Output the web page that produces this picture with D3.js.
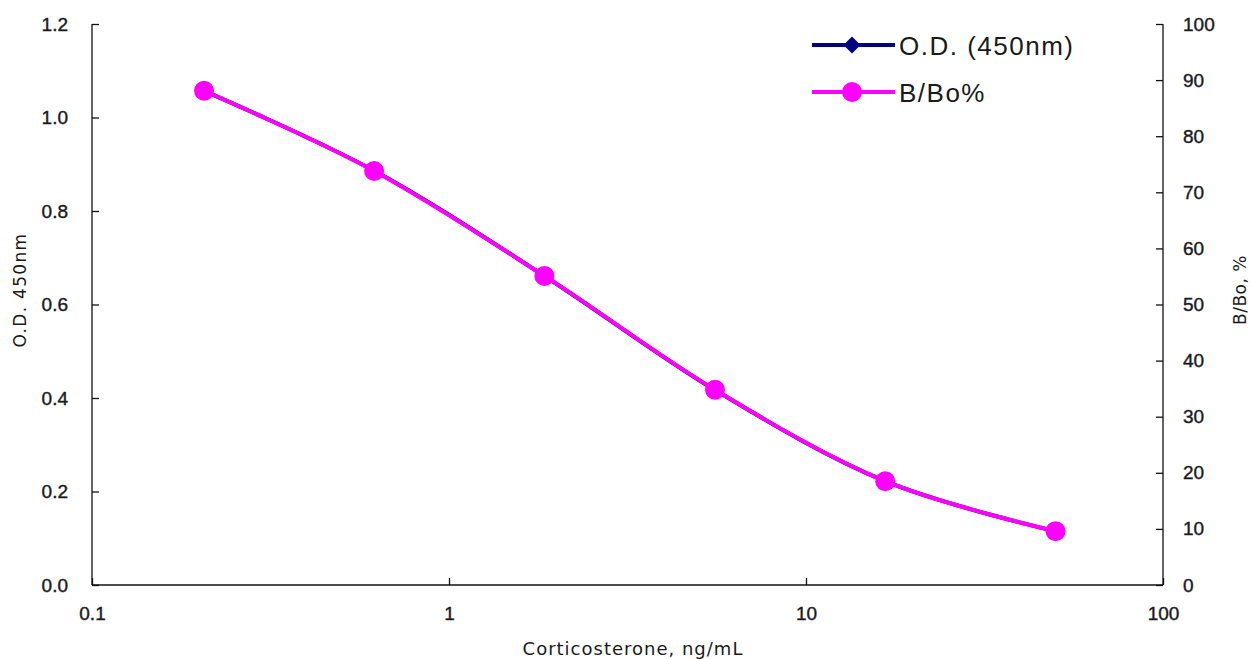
<!DOCTYPE html>
<html lang="en">
<head>
    <meta charset="UTF-8">
    <title>Corticosterone standard curve</title>
    <script src="https://d3js.org/d3.v7.min.js"></script>
    <style>
        body { margin: 0; background: #fff; }
        svg text { font-family: "Liberation Sans", Arial, sans-serif; fill: #1a1a1a; }
    </style>
</head>
<body>
    <svg id="chart" width="1251" height="659"></svg>
    <script>
        // standard concentrations (3-fold dilution from 50 ng/mL)
        const conc = [0.206, 0.617, 1.85, 5.56, 16.67, 50];
        const odValues = [1.057, 0.886, 0.661, 0.417, 0.222, 0.115];
        const bboValues = [88.1, 73.8, 55.1, 34.8, 18.5, 9.6];
        const xTicks = [0.1, 1, 10, 100];
        const leftTicks = [0, 0.2, 0.4, 0.6, 0.8, 1.0, 1.2];
        const rightTicks = [0, 10, 20, 30, 40, 50, 60, 70, 80, 90, 100];

        const svg = d3.select("#chart");
        const width = +svg.attr("width");
        const height = +svg.attr("height");
        const margin = { top: 24, right: 88, bottom: 74, left: 92 };
        const chartWidth = width - margin.left - margin.right;
        const chartHeight = height - margin.top - margin.bottom;
        const g = svg.append("g")
            .attr("transform", `translate(${margin.left},${margin.top})`);

        const x = d3.scaleLog().domain([0.1, 100]).range([0, chartWidth]);
        const yLeft = d3.scaleLinear().domain([0, 1.2]).range([chartHeight, 0]);
        const yRight = d3.scaleLinear().domain([0, 100]).range([chartHeight, 0]);

        // axes, ticks pointing inward
        const xAxis = g.append("g")
            .attr("transform", `translate(0,${chartHeight})`)
            .call(d3.axisBottom(x).tickValues(xTicks).tickSize(-7).tickPadding(22)
                .tickFormat(d => d >= 1 ? d3.format("d")(d) : d));
        const lAxis = g.append("g")
            .call(d3.axisLeft(yLeft).tickValues(leftTicks).tickSize(-7).tickPadding(24)
                .tickFormat(d3.format(".1f")));
        const rAxis = g.append("g")
            .attr("transform", `translate(${chartWidth},0)`)
            .call(d3.axisRight(yRight).tickValues(rightTicks).tickSize(-7).tickPadding(20));

        [xAxis, lAxis, rAxis].forEach(a => {
            a.select(".domain").attr("stroke", "#111").attr("stroke-width", 1.3);
            a.selectAll(".tick line").attr("stroke", "#111").attr("stroke-width", 1.3);
            a.selectAll("text").attr("font-size", 19).attr("fill", "#1a1a2a")
                .attr("stroke", "#1a1a2a").attr("stroke-width", 0.4)
                .style("font-family", "'Liberation Sans', Arial, sans-serif");
        });
        // strip outer tick stubs the axis path draws
        xAxis.select(".domain").attr("d", `M0,0H${chartWidth}`);
        lAxis.select(".domain").attr("d", `M0,${chartHeight}V0`);
        rAxis.select(".domain").attr("d", `M0,${chartHeight}V0`);

        // axis titles
        svg.append("text")
            .attr("x", 633)
            .attr("y", 655)
            .attr("text-anchor", "middle")
            .attr("font-size", 18)
            .attr("letter-spacing", 1)
            .style("font-family", "'DejaVu Sans', sans-serif")
            .text("Corticosterone, ng/mL");
        svg.append("text")
            .attr("transform", "translate(26,290) rotate(-90)")
            .attr("text-anchor", "middle")
            .attr("font-size", 17)
            .attr("letter-spacing", 1.3)
            .style("font-family", "'DejaVu Sans', sans-serif")
            .text("O.D. 450nm");
        svg.append("text")
            .attr("transform", "translate(1246,290) rotate(-90)")
            .attr("text-anchor", "middle")
            .attr("font-size", 17)
            .attr("letter-spacing", 0.5)
            .style("font-family", "'DejaVu Sans', sans-serif")
            .text("B/Bo, %");

        const odData = conc.map((c, i) => ({ c, v: odValues[i] }));
        const bboData = conc.map((c, i) => ({ c, v: bboValues[i] }));

        const navy = "#000080";
        const magenta = "#ff00ff";

        // O.D. series (underneath)
        g.append("path")
            .datum(odData)
            .attr("fill", "none")
            .attr("stroke", navy)
            .attr("stroke-width", 4)
            .attr("d", d3.line().x(d => x(d.c)).y(d => yLeft(d.v)).curve(d3.curveCatmullRom.alpha(0)));
        g.selectAll(".od-pt")
            .data(odData)
            .enter().append("path")
            .attr("class", "od-pt")
            .attr("transform", d => `translate(${x(d.c)},${yLeft(d.v)}) rotate(45)`)
            .attr("d", "M-6,-6H6V6H-6Z")
            .attr("fill", navy);

        // B/Bo series
        g.append("path")
            .datum(bboData)
            .attr("fill", "none")
            .attr("stroke", magenta)
            .attr("stroke-width", 4)
            .attr("d", d3.line().x(d => x(d.c)).y(d => yRight(d.v)).curve(d3.curveCatmullRom.alpha(0)));
        g.selectAll(".bbo-pt")
            .data(bboData)
            .enter().append("circle")
            .attr("class", "bbo-pt")
            .attr("cx", d => x(d.c))
            .attr("cy", d => yRight(d.v))
            .attr("r", 10)
            .attr("fill", magenta);

        // legend
        const legend = svg.append("g").attr("transform", "translate(812,45)");
        legend.append("line").attr("x1", 0).attr("x2", 83).attr("y1", 0).attr("y2", 0)
            .attr("stroke", navy).attr("stroke-width", 4);
        legend.append("path").attr("transform", "translate(40,0) rotate(45)")
            .attr("d", "M-6,-6H6V6H-6Z").attr("fill", navy);
        legend.append("text").attr("x", 87).attr("y", 10).attr("font-size", 26)
            .attr("letter-spacing", 1.5).text("O.D. (450nm)");

        legend.append("line").attr("x1", 0).attr("x2", 83).attr("y1", 47).attr("y2", 47)
            .attr("stroke", magenta).attr("stroke-width", 4);
        legend.append("circle").attr("cx", 40).attr("cy", 47).attr("r", 10).attr("fill", magenta);
        legend.append("text").attr("x", 87).attr("y", 57).attr("font-size", 26)
            .attr("letter-spacing", 1.5).text("B/Bo%");
    </script>
</body>
</html>
